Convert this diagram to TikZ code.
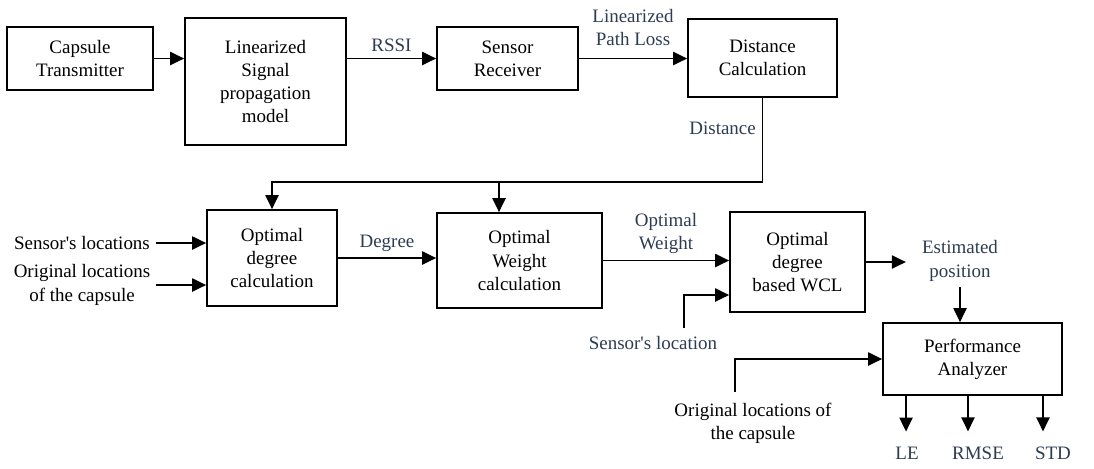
\documentclass[tikz,border=0pt]{standalone}
\usepackage{fontspec}
\setmainfont{Liberation Serif}
\usetikzlibrary{arrows.meta, calc}
\definecolor{lblcol}{RGB}{45,60,82}

\begin{document}
\begin{tikzpicture}[x=0.02cm, y=-0.02cm,
		font=\fontsize{10.8}{13.2}\selectfont,
		blk/.style={draw, line width=1pt, align=center, inner sep=0pt},
		lbl/.style={align=center, text=lblcol},
		txt/.style={align=center},
		arr/.style={line width=1pt, -{Triangle[length=8pt, width=7.5pt]}}]
			\useasboundingbox (0,0) rectangle (1094,468);
			
			%first row
			\node[blk, minimum width=2.92cm, minimum height=1.26cm] (cap) at (80,58.5) {Capsule\\Transmitter};
			\node[blk, minimum width=3.22cm, minimum height=2.54cm] (lin) at (265.5,81.5) {Linearized\\Signal\\propagation\\model};
			\node[blk, minimum width=2.82cm, minimum height=1.26cm] (rx) at (507.5,58.5) {Sensor\\Receiver};
			\node[blk, minimum width=2.98cm, minimum height=1.56cm] (dc) at (762.5,58) {Distance\\Calculation};
			
			%second row
			\node[blk, minimum width=2.6cm, minimum height=1.92cm] (odeg) at (272,258) {Optimal\\degree\\calculation};
			\node[blk, minimum width=3.3cm, minimum height=1.9cm] (owt) at (519.5,260.5) {Optimal\\Weight\\calculation};
			\node[blk, minimum width=2.7cm, minimum height=2cm] (wcl) at (797.5,262) {Optimal\\degree\\based WCL};
			\node[blk, minimum width=3.58cm, minimum height=1.44cm] (perf) at (972.5,359) {Performance\\Analyzer};
			
			%inputs and outputs
			\node[txt] (sl) at (82,243) {Sensor\textquotesingle s locations};
			\node[txt] (ol) at (82,285) {Original locations\\of the capsule};
			\node[lbl, inner xsep=9pt] (est) at (960,261) {Estimated\\position};
			\node[lbl] (sloc) at (653,343) {Sensor\textquotesingle s location};
			\node[txt] (ol2) at (753,423) {Original locations of\\the capsule};
			\node[lbl] (le) at (907,453) {LE};
			\node[lbl] (rmse) at (978,453) {RMSE};
			\node[lbl] (std) at (1053,453) {STD};
			
			\coordinate (bus) at (757,182);
			\coordinate (tap) at (499,182);
			\coordinate (slx) at (684,328);
			\coordinate (olx) at (735,392);
			
			\draw[arr] (cap) -- (cap -| lin.west);
			\draw[arr] (rx.west -| lin.east) -- node[lbl, above] {RSSI} (rx.west);
			\draw[arr] (rx.east) -- node[lbl, above=0.12cm] {Linearized\\Path Loss} (rx.east -| dc.west);
			
			%distance feedback
			\draw[line width=1pt] (dc.south) -- node[lbl, left, pos=0.36] {Distance} (dc.south |- bus);
			\draw[arr] (dc.south |- bus) -| (odeg.north);
			\draw[arr] (tap) -- (tap |- owt.north);
			
			\draw[arr] (sl.east) -- (sl.east -| odeg.west);
			\draw[arr] (ol.east) -- (ol.east -| odeg.west);
			\draw[arr] (odeg.east) -- node[lbl, above] {Degree} (odeg.east -| owt.west);
			\draw[arr] (owt.east) -- node[lbl, above] {Optimal\\Weight} (owt.east -| wcl.west);
			\draw[arr] (wcl.east) -- (wcl.east -| est.west);
			\draw[arr] (slx) |- ([yshift=-0.66cm]wcl.west);
			\draw[arr] (est.south) -- (est.south |- perf.north);
			\draw[arr] (olx) |- (perf.west);
			
			%performance measures
			\foreach \n/\dx in {le/-1.33cm, rmse/-0.09cm, std/1.41cm}{
				\path ([xshift=\dx]perf.south) coordinate (o\n);
				\draw[arr] (o\n) -- ([yshift=0.18cm]o\n |- \n.north);
			}
		\end{tikzpicture}
\end{document}
